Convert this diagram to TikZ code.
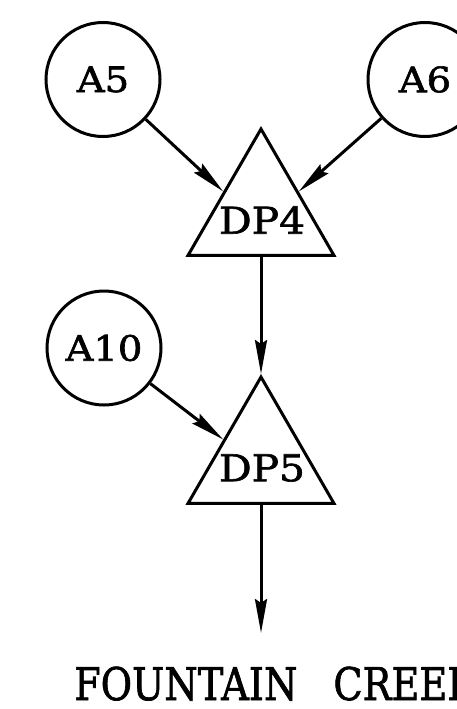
\documentclass[tikz,border=0pt]{standalone}
\usepackage{fontspec}
\setmainfont{DejaVu Serif}[BoldFont={DejaVu Serif}, BoldFeatures={FakeBold=1.6}]
\usetikzlibrary{shapes.geometric,arrows.meta,calc}

\tikzset{
  line/.style={line width=3pt},
  flow/.style={line, -{Stealth[length=34pt,width=12pt,inset=4pt]}},
  area/.style={circle, draw, line width=3pt, minimum size=114pt, inner sep=0pt,
               font=\fontsize{35}{35}\selectfont\bfseries},
  junction/.style={regular polygon, regular polygon sides=3, draw, line width=3pt,
               minimum size=168.6pt, inner sep=0pt},
  dplabel/.style={font=\fontsize{37}{37}\selectfont\bfseries},
}
% widened label text
\newcommand{\widelab}[1]{\scalebox{1.1}[1]{#1}}

\begin{document}
\begin{tikzpicture}[x=1pt,y=-1pt]
  \useasboundingbox (0,0) rectangle (457,709);
  \clip (0,0) rectangle (457,709);

  % sub-basin areas
  \node[area] (a5)  at (103,79.5) {\widelab{A5}};
  \node[area] (a6)  at (425,79.5) {\widelab{A6}};
  \node[area] (a10) at (104,348)  {\widelab{A10}};

  % design points
  \node[junction] (dp4) at (261,213.3) {};
  \node[junction] (dp5) at (261,461.3) {};
  \node[dplabel] (dp4lab) at (262,220) {\widelab{DP4}};
  \node[dplabel] (dp5lab) at (262,468) {\widelab{DP5}};

  % outlet
  \coordinate (out) at (261,633);
  \node[anchor=base west, inner sep=0pt, font=\fontsize{45}{45}\selectfont\bfseries]
    (creek) at (74,700) {\scalebox{0.85}[1]{FOUNTAIN}\hspace{36pt}\scalebox{0.85}[1]{CREEK}};

  % flow paths
  \draw[flow] (a5)  -- (dp4.side 1);
  \draw[flow] (a6)  -- (dp4.side 3);
  \draw[flow] (dp4.side 2) -- (dp5.corner 1);
  \draw[flow] (a10) -- (dp5.side 1);
  \draw[flow] (dp5.side 2) -- (out);
\end{tikzpicture}
\end{document}
